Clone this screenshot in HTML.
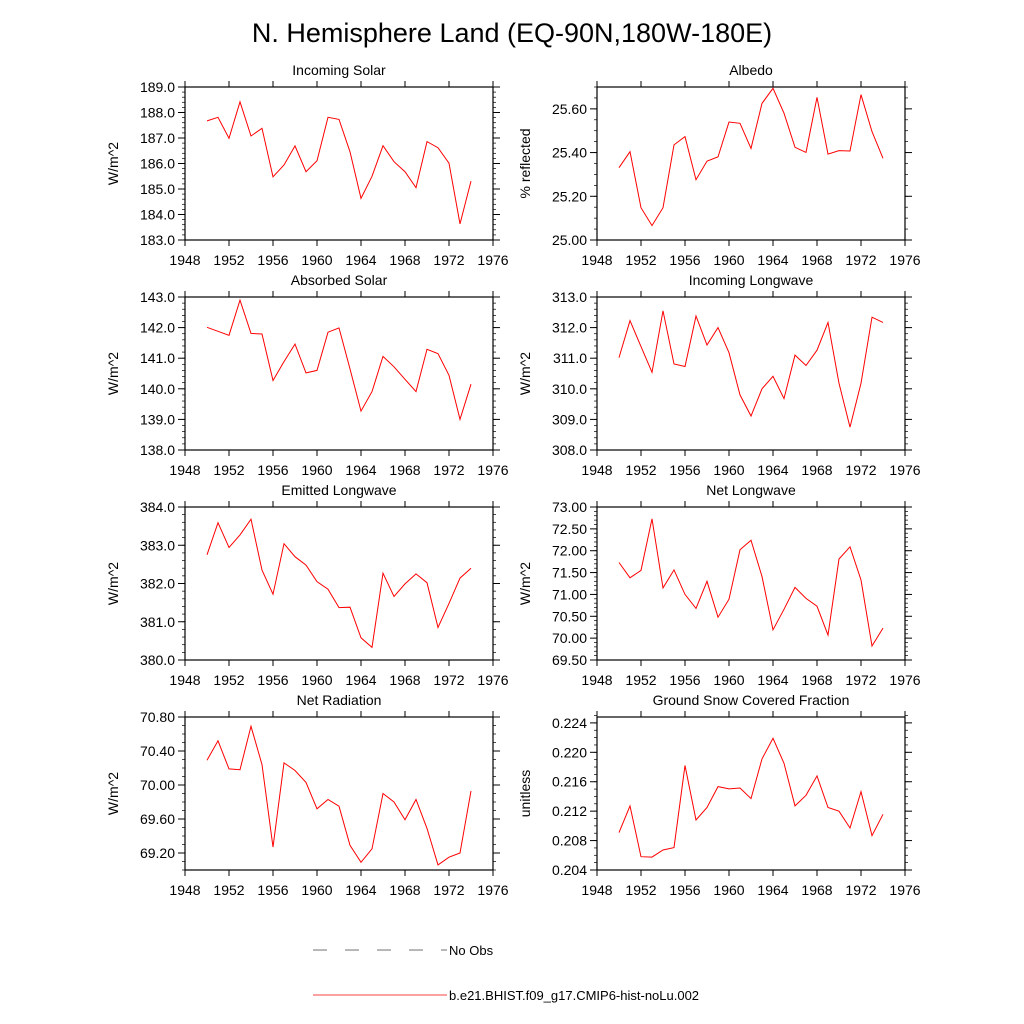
<!DOCTYPE html>
<html><head><meta charset="utf-8"><style>
body{margin:0;background:#fff;}
svg{display:block;font-family:"Liberation Sans",Arial,sans-serif;}
</style></head><body>
<svg id="c" width="1024" height="1024" viewBox="0 0 1024 1024">
<text x="512" y="42" font-size="27" text-anchor="middle">N. Hemisphere Land (EQ-90N,180W-180E)</text>
<g id="panels"></g>
<line x1="313" y1="950" x2="447" y2="950" stroke="#444" stroke-width="0.7" stroke-dasharray="14,18"/>
<text x="449" y="955" font-size="13">No Obs</text>
<line x1="313" y1="995" x2="447" y2="995" stroke="#ff0000" stroke-width="0.8"/>
<text x="449" y="1000" font-size="13">b.e21.BHIST.f09_g17.CMIP6-hist-noLu.002</text>
</svg>
<script>
const years=[1950,1951,1952,1953,1954,1955,1956,1957,1958,1959,1960,1961,1962,1963,1964,1965,1966,1967,1968,1969,1970,1971,1972,1973,1974];
const xTicks=[1948,1952,1956,1960,1964,1968,1972,1976];
const incomingSolar=[187.67,187.81,186.99,188.42,187.08,187.38,185.48,185.94,186.69,185.68,186.11,187.81,187.73,186.46,184.63,185.50,186.70,186.07,185.68,185.05,186.86,186.62,186.01,183.63,185.31];
const albedo=[25.331,25.404,25.148,25.066,25.148,25.435,25.473,25.276,25.361,25.380,25.540,25.534,25.419,25.625,25.694,25.580,25.424,25.401,25.653,25.393,25.409,25.407,25.665,25.496,25.374];
const absorbedSolar=[142.01,141.88,141.75,142.90,141.81,141.79,140.27,140.89,141.46,140.52,140.60,141.85,141.99,140.65,139.27,139.91,141.06,140.72,140.31,139.91,141.29,141.15,140.44,139.00,140.15];
const incomingLW=[311.02,312.23,311.38,310.54,312.55,310.81,310.73,312.38,311.43,312.00,311.18,309.80,309.11,310.00,310.41,309.68,311.10,310.76,311.26,312.17,310.18,308.75,310.18,312.34,312.17];
const emittedLW=[382.75,383.59,382.94,383.27,383.68,382.35,381.72,383.04,382.70,382.48,382.05,381.85,381.37,381.38,380.58,380.33,382.27,381.66,381.99,382.25,382.02,380.85,381.48,382.14,382.40];
const netLW=[71.73,71.38,71.55,72.73,71.15,71.56,71.00,70.68,71.30,70.48,70.89,72.02,72.24,71.41,70.19,70.66,71.16,70.91,70.73,70.07,71.81,72.09,71.33,69.82,70.23];
const netRad=[70.29,70.52,70.19,70.18,70.69,70.24,69.27,70.26,70.17,70.03,69.72,69.83,69.75,69.29,69.09,69.25,69.90,69.80,69.59,69.83,69.49,69.06,69.15,69.20,69.93];
const snowFrac=[0.20908,0.21271,0.20581,0.20576,0.20672,0.20704,0.21820,0.21080,0.21249,0.21534,0.21503,0.21515,0.21370,0.21910,0.22191,0.21851,0.21271,0.21416,0.21679,0.21249,0.21199,0.20971,0.21466,0.20867,0.21157];
const ticksIS=[183,184,185,186,187,188,189];
const ticksAlb=[25.0,25.2,25.4,25.6];
const ticksAbs=[138,139,140,141,142,143];
const ticksILW=[308,309,310,311,312,313];
const ticksELW=[380,381,382,383,384];
const ticksNLW=[69.5,70,70.5,71,71.5,72,72.5,73];
const ticksNR=[69.2,69.6,70.0,70.4,70.8];
const ticksSnow=[0.204,0.208,0.212,0.216,0.220,0.224];

const NS="http://www.w3.org/2000/svg";
const root=document.getElementById('panels');
function el(t,a,p){const e=document.createElementNS(NS,t);for(const k in a)e.setAttribute(k,a[k]);(p||root).appendChild(e);return e;}
const panels=[
 {t:"Incoming Solar",yl:"W/m^2",d:incomingSolar,ticks:ticksIS,min:183,max:189,minor:0.2,dec:1,x:185,y:87,slug:"incoming-solar"},
 {t:"Albedo",yl:"% reflected",d:albedo,ticks:ticksAlb,min:25.0,max:25.7,minor:0.05,dec:2,x:597,y:87,slug:"albedo"},
 {t:"Absorbed Solar",yl:"W/m^2",d:absorbedSolar,ticks:ticksAbs,min:138,max:143,minor:0.2,dec:1,x:185,y:297,slug:"absorbed-solar"},
 {t:"Incoming Longwave",yl:"W/m^2",d:incomingLW,ticks:ticksILW,min:308,max:313,minor:0.2,dec:1,x:597,y:297,slug:"incoming-longwave"},
 {t:"Emitted Longwave",yl:"W/m^2",d:emittedLW,ticks:ticksELW,min:380,max:384,minor:0.2,dec:1,x:185,y:507,slug:"emitted-longwave"},
 {t:"Net Longwave",yl:"W/m^2",d:netLW,ticks:ticksNLW,min:69.5,max:73,minor:0.1,dec:2,x:597,y:507,slug:"net-longwave"},
 {t:"Net Radiation",yl:"W/m^2",d:netRad,ticks:ticksNR,min:69.0,max:70.8,minor:0.1,dec:2,x:185,y:717,slug:"net-radiation"},
 {t:"Ground Snow Covered Fraction",yl:"unitless",d:snowFrac,ticks:ticksSnow,min:0.204,max:0.2248,minor:0.001,dec:3,x:597,y:717,slug:"snow-fraction"}
];
const W=308,H=153;
panels.forEach(p=>{
 const g=el('g',{});
 
 
 const xs=v=>p.x+(v-1948)/28*W;
 const ys=v=>p.y+H-(v-p.min)/(p.max-p.min)*H;
 const fr=el('rect',{x:p.x,y:p.y,width:W,height:H,fill:'none',stroke:'#000','stroke-width':1.2},g);
 
 
 const tt=el('text',{x:p.x+W/2,y:p.y-12,'font-size':14,'text-anchor':'middle'},g);tt.textContent=p.t;
 
 
 const yt=el('text',{x:0,y:0,'font-size':14,'text-anchor':'middle',transform:`translate(${p.x-67},${p.y+H/2}) rotate(-90)`},g);yt.textContent=p.yl;
 
 
 xTicks.forEach(v=>{const x=xs(v);
  el('line',{x1:x,y1:p.y+H,x2:x,y2:p.y+H+6,stroke:'#000'},g);
  el('line',{x1:x,y1:p.y,x2:x,y2:p.y-6,stroke:'#000'},g);
  const t=el('text',{x:x,y:p.y+H+25,'font-size':14,'text-anchor':'middle'},g);t.textContent=v;
  
  
 });
 const n=Math.round((p.max-p.min)/p.minor);
 for(let i=0;i<=n;i++){const v=p.min+i*p.minor;const y=ys(v);
  el('line',{x1:p.x,y1:y,x2:p.x-3,y2:y,stroke:'#000','stroke-width':0.7},g);
  el('line',{x1:p.x+W,y1:y,x2:p.x+W+3,y2:y,stroke:'#000','stroke-width':0.7},g);}
 p.ticks.forEach(v=>{const y=ys(v);
  el('line',{x1:p.x,y1:y,x2:p.x-7,y2:y,stroke:'#000'},g);
  el('line',{x1:p.x+W,y1:y,x2:p.x+W+7,y2:y,stroke:'#000'},g);
  const t=el('text',{x:p.x-10,y:y+5,'font-size':14,'text-anchor':'end'},g);t.textContent=v.toFixed(p.dec);
  
  
 });
 const pts=p.d.map((v,i)=>xs(years[i]).toFixed(1)+','+ys(v).toFixed(1)).join(' ');
 const l=el('polyline',{points:pts,fill:'none',stroke:'#ff0000','stroke-width':1},g);
 
 
});
</script>
</body></html>
